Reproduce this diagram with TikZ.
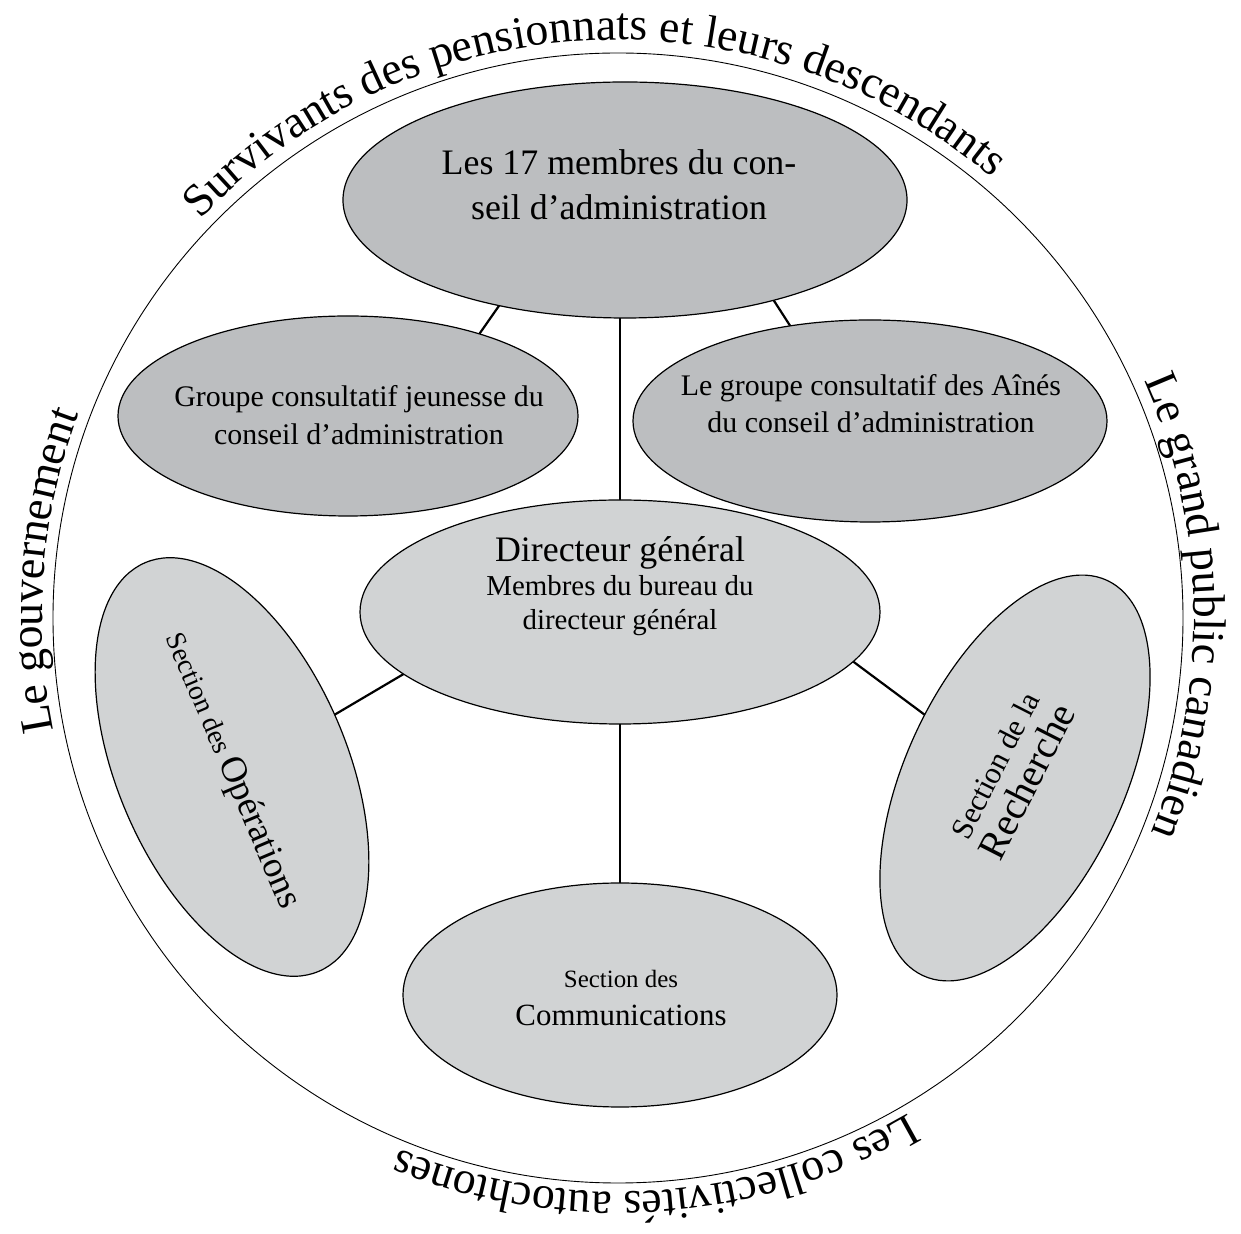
\documentclass[tikz,border=0pt]{standalone}
\usepackage{fontspec}
\setmainfont{Liberation Serif}
\usetikzlibrary{shapes.geometric,decorations.text,backgrounds,calc}
\definecolor{gdark}{RGB}{188,190,192}
\definecolor{glight}{RGB}{209,211,212}
\begin{document}
\begin{tikzpicture}[x=1bp,y=1bp,
  oval/.style={ellipse, draw=black, line width=1.2bp, inner sep=0pt, outer sep=0pt},
  ovaldark/.style={oval, fill=gdark},
  ovallight/.style={oval, fill=glight},
  link/.style={line width=2.2bp, shorten <=-4bp, shorten >=-4bp},
  arctext/.style={decorate, decoration={text along path, text align=center, text={|\fontsize{46}{46}\selectfont|#1}}}
]
\useasboundingbox (0,0) rectangle (1241,1234);
\coordinate (C) at (618,616);
\coordinate (T) at (618,618);
\draw[line width=0.9bp] (C) circle[radius=565];

% ellipses
\node[ovaldark, minimum width=564bp, minimum height=236bp] (board) at (625,1034) {};
\node[ovaldark, minimum width=460bp, minimum height=200bp] (youth) at (348,818) {};
\node[ovaldark, minimum width=474bp, minimum height=202bp] (elders) at (870,813) {};
\node[ovallight, minimum width=520bp, minimum height=224bp] (dg) at (620,622) {};
\node[ovallight, minimum width=444bp, minimum height=230bp, rotate=-67] (ops) at (232,467) {};
\node[ovallight, minimum width=436bp, minimum height=218bp, rotate=65] (rech) at (1015,456) {};
\node[ovallight, minimum width=434bp, minimum height=224bp] (comm) at (620,239) {};

% texts
\node[font=\fontsize{36}{45}\selectfont, align=center] (boardtxt) at (619,1049) {Les 17 membres du con-\\seil d’administration};
\node[font=\fontsize{30}{38}\selectfont, align=center] (youthtxt) at (359,819) {Groupe consultatif jeunesse du\\conseil d’administration};
\node[font=\fontsize{30}{37}\selectfont, align=center] (elderstxt) at (871,830) {Le groupe consultatif des Aînés\\du conseil d’administration};
\node[font=\fontsize{29}{34}\selectfont, align=center] (dgtxt) at (620,648) {{\fontsize{36}{36}\selectfont Directeur général}\\Membres du bureau du\\directeur général};
\node[font=\fontsize{31}{38}\selectfont, align=center] (commtxt) at (621,236) {{\fontsize{25}{25}\selectfont Section des}\\Communications};
\node[rotate=-67] (opstxt) at (232,463) {\fontsize{28}{28}\selectfont Section des \fontsize{37}{37}\selectfont Opérations};
\node[rotate=63, font=\fontsize{40}{38}\selectfont, align=center] (rechtxt) at (1012,460) {{\fontsize{31}{31}\selectfont Section de la}\\Recherche};

% connectors
\begin{scope}[on background layer]
\fill[white] (0,0) rectangle (1241,1234);
\draw[link] (board.220) -- (youth.32);
\draw[link] (board.-34) -- (elders.130);
\draw[link] (dg.north |- board.south) -- (dg.north);
\draw[link] (dg.196) -- (ops.94);
\draw[link] (dg.-12) -- (rech.80);
\draw[link] (dg.south) -- (comm.north);
\end{scope}

% texts around the circle
\path[arctext={Survivants des pensionnats et leurs descendants}] ($(T)+(163:576)$) arc[start angle=163, end angle=23, radius=576];
\path[arctext={Le grand public canadien}] ($(T)+(41:576)$) arc[start angle=41, end angle=-39, radius=576];
\path[arctext={Les collectivités autochtones}] ($(T)+(-46:576)$) arc[start angle=-46, end angle=-126, radius=576];
\path[arctext={Le gouvernement}] ($(T)+(215.5:576)$) arc[start angle=215.5, end angle=135.5, radius=576];
\end{tikzpicture}
\end{document}
